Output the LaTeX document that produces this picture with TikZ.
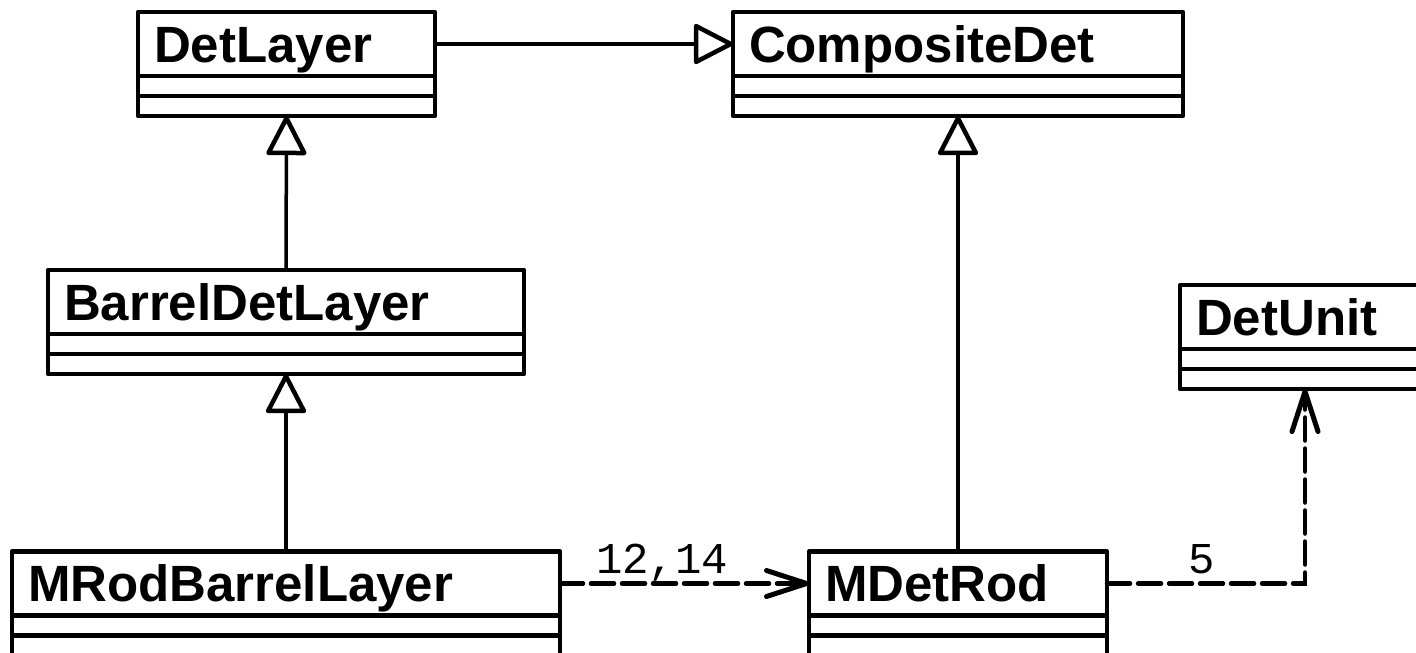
\documentclass[tikz,border=0pt]{standalone}
\usepackage{fontspec}
\setmainfont{Liberation Sans}
\newfontfamily\multfont{Liberation Mono}
\usetikzlibrary{arrows.meta}

\tikzset{
  classname/.style={draw, line width=2.25pt, line join=round, outer sep=0pt, inner xsep=8pt, inner ysep=0pt,
    minimum height=32pt, text height=18.3pt, text depth=0pt, align=left,
    font=\bfseries\fontsize{25.5}{30}\selectfont},
  compart/.style={draw, line width=2.25pt, line join=round, outer sep=0pt, inner sep=0pt, minimum height=10pt, anchor=north},
  genline/.style={line width=1.75pt, -{Triangle[open, length=21pt, width=21pt, line width=2.25pt, round]}},
  depline/.style={line width=2.25pt, line cap=round, dash pattern=on 11.5pt off 4pt,
    -{Straight Barb[length=20pt, width=13pt, line width=2.5pt, round]}},
  mult/.style={above=4pt, inner sep=0pt, text depth=0pt, font=\multfont\fontsize{22}{22}\selectfont}
}

\begin{document}
\begin{tikzpicture}[x=0.5pt, y=-0.5pt]
      \useasboundingbox (0,0) rectangle (1416,652);
      \clip (0,0) rectangle (1416,652);
      % class boxes: name, attributes, operations
      \node[classname, text width=132.5pt] (detlayer) at (286.5,44) {DetLayer};
      \node[compart, minimum width=148.5pt] (detlayer-attr) at (detlayer.south) {};
      \node[compart, minimum width=148.5pt] (detlayer-ops) at (detlayer-attr.south) {};
      \node[classname, text width=209pt] (compositedet) at (958,44) {CompositeDet};
      \node[compart, minimum width=225pt] (compositedet-attr) at (compositedet.south) {};
      \node[compart, minimum width=225pt] (compositedet-ops) at (compositedet-attr.south) {};
      \node[classname, text width=222pt] (barrel) at (286,302) {BarrelDetLayer};
      \node[compart, minimum width=238pt] (barrel-attr) at (barrel.south) {};
      \node[compart, minimum width=238pt] (barrel-ops) at (barrel-attr.south) {};
      \node[classname, text width=109pt] (detunit) at (1305,317) {DetUnit};
      \node[compart, minimum width=125pt] (detunit-attr) at (detunit.south) {};
      \node[compart, minimum width=125pt] (detunit-ops) at (detunit-attr.south) {};
      \node[classname, text width=258pt] (mrod) at (286,583.5) {MRodBarrelLayer};
      \node[compart, minimum width=274pt] (mrod-attr) at (mrod.south) {};
      \node[compart, minimum width=274pt] (mrod-ops) at (mrod-attr.south) {};
      \node[classname, text width=133pt] (mdetrod) at (958,583.5) {MDetRod};
      \node[compart, minimum width=149pt] (mdetrod-attr) at (mdetrod.south) {};
      \node[compart, minimum width=149pt] (mdetrod-ops) at (mdetrod-attr.south) {};
      % inheritance
      \draw[genline] (detlayer.east) -- (compositedet.west);
      \draw[genline] (barrel.north) -- (detlayer-ops.south);
      \draw[genline] (mrod.north) -- (barrel-ops.south);
      \draw[genline] (mdetrod.north) -- (compositedet-ops.south);
      % dependencies
      \draw[depline] (mrod.east) -- node[mult, pos=0.41] {12,14} (mdetrod.west);
      \draw[depline] (mdetrod.east) -| node[mult, pos=0.24] {5} (detunit-ops.south);
    \end{tikzpicture}
\end{document}
